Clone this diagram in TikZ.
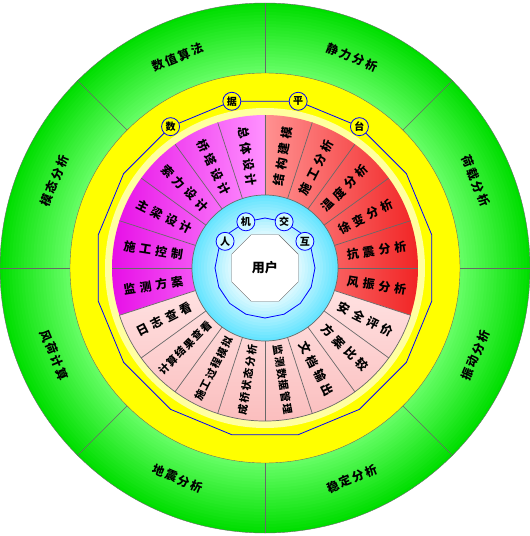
\documentclass[tikz,border=0pt]{standalone}
\usepackage{fontspec}
\newfontfamily\cjk{Noto Sans CJK SC}
\usetikzlibrary{shapes.geometric}

\definecolor{linegray}{RGB}{105,105,105}
\definecolor{grdark}{RGB}{0,222,0}
\definecolor{grlight}{RGB}{105,255,105}
\definecolor{ringyellow}{RGB}{255,255,0}
\definecolor{paleyellow}{RGB}{255,255,160}
\definecolor{mgsat}{RGB}{230,10,230}
\definecolor{mglight}{RGB}{255,145,255}
\definecolor{rdsat}{RGB}{240,30,30}
\definecolor{rdlight}{RGB}{255,145,145}
\definecolor{pklight}{RGB}{255,225,225}
\definecolor{pkdark}{RGB}{250,185,185}
\definecolor{cyanedge}{RGB}{100,228,255}
\definecolor{chipcyan}{RGB}{205,248,255}
\definecolor{loopblue}{RGB}{0,0,255}

\newcommand{\spread}[2]{\def\charsep{#1}\spreadchar#2\relax}
\def\spreadchar#1{#1\futurelet\spreadtok\spreadnext}
\def\spreadnext{\ifx\spreadtok\relax\expandafter\spreadstop\else\hskip\charsep\relax\expandafter\spreadchar\fi}
\def\spreadstop\relax{}

\begin{document}
\begin{tikzpicture}[x=1pt, y=1pt,
  divider/.style={draw=linegray, line width=0.7},
  blueloop/.style={draw=loopblue, line width=0.8},
  seglabel/.style={font=\cjk\bfseries\fontsize{12}{12}\selectfont, inner sep=0},
  longlabel/.style={font=\cjk\bfseries\fontsize{10.5}{10.5}\selectfont, inner sep=0},
  ringlabel/.style={font=\cjk\bfseries\fontsize{12}{12}\selectfont, inner sep=0},
  chip/.style={circle, draw=loopblue, line width=0.8, minimum size=18, inner sep=0,
    font=\cjk\bfseries\fontsize{10}{10}\selectfont},
  hub/.style={regular polygon, regular polygon sides=8, draw=linegray, fill=white,
    minimum size=72, inner sep=0, font=\cjk\bfseries\fontsize{13}{13}\selectfont}]
  \useasboundingbox (-265,-268) rectangle (265,268);

  \foreach \r [evaluate=\r as \p using {int((\r-195)*100/70)}] in {265,262,...,196}
    \fill[grdark!\p!grlight] (0,0) circle (\r);
  \draw[linegray] (0,0) circle (265);
  \foreach \a in {0,45,...,315} \draw[divider] (\a:195) -- (\a:265);
  \filldraw[fill=ringyellow, draw=linegray] (0,0) circle (195);
  \fill[paleyellow] (0,0) circle (160);
  \draw[blueloop] (11.25:170) \foreach \a in {33.75,56.25,...,348.75} {-- (\a:170)} -- cycle;

  \shade[left color=mgsat, right color=mglight] (90:153) arc[start angle=90, end angle=198, radius=153]
    -- (198:73) arc[start angle=198, end angle=90, radius=73] -- cycle;
  \shade[left color=rdlight, right color=rdsat] (-18:153) arc[start angle=-18, end angle=90, radius=153]
    -- (90:73) arc[start angle=90, end angle=-18, radius=73] -- cycle;
  \shade[top color=pklight, bottom color=pkdark] (198:153) arc[start angle=198, end angle=342, radius=153]
    -- (342:73) arc[start angle=342, end angle=198, radius=73] -- cycle;
  \foreach \a in {0,18,...,342} \draw[divider] (\a:73) -- (\a:153);
  \draw[divider] (198:153) arc[start angle=198, end angle=342, radius=153];

  \foreach \r [evaluate=\r as \p using {int((\r-25)*100/48)}] in {73,70,...,34}
    \fill[cyanedge!\p!white] (0,0) circle (\r);
  \draw[divider] (0,0) circle (73);
  \draw[blueloop] (0:50) \foreach \a in {22.5,45,...,337.5} {-- (\a:50)} -- cycle;
  \node[hub] (user) at (0,0) {用户};

  \node[chip, fill=ringyellow] (shu) at (123.75:170) {数};
  \node[chip, fill=ringyellow] (ju) at (101.25:170) {据};
  \node[chip, fill=ringyellow] (ping) at (78.75:170) {平};
  \node[chip, fill=ringyellow] (tai) at (56.25:170) {台};
  \node[chip, fill=chipcyan] (ren) at (146.25:48) {人};
  \node[chip, fill=chipcyan] (ji) at (112.5:50) {机};
  \node[chip, fill=chipcyan] (jiao) at (67.5:50) {交};
  \node[chip, fill=chipcyan] (hu) at (33.75:48) {互};

  \node[ringlabel, rotate=22.5] (numeric) at (112.5:228) {\spread{2pt}{数值算法}};
  \node[ringlabel, rotate=-22.5] (static) at (67.5:228) {\spread{2pt}{静力分析}};
  \node[ringlabel, rotate=-67.5] (load) at (22.5:228) {\spread{2pt}{荷载分析}};
  \node[ringlabel, rotate=67.5] (vibration) at (-22.5:228) {\spread{2pt}{振动分析}};
  \node[ringlabel, rotate=22.5] (stability) at (-67.5:228) {\spread{2pt}{稳定分析}};
  \node[ringlabel, rotate=-22.5] (quake) at (-112.5:228) {\spread{2pt}{地震分析}};
  \node[ringlabel, rotate=-67.5] (windload) at (-157.5:228) {\spread{2pt}{风荷计算}};
  \node[ringlabel, rotate=67.5] (modal) at (157.5:228) {\spread{2pt}{模态分析}};

  \node[seglabel, rotate=-81] (design) at (99:113) {\spread{4pt}{总体设计}};
  \node[seglabel, rotate=-63] (tower) at (117:113) {\spread{4pt}{桥塔设计}};
  \node[seglabel, rotate=-45] (cable) at (135:113) {\spread{4pt}{索力设计}};
  \node[seglabel, rotate=-27] (girder) at (153:113) {\spread{4pt}{主梁设计}};
  \node[seglabel, rotate=-9] (control) at (171:113) {\spread{4pt}{施工控制}};
  \node[seglabel, rotate=9] (monitor) at (189:113) {\spread{4pt}{监测方案}};
  \node[seglabel, rotate=27] (log) at (207:113) {\spread{4pt}{日志查看}};
  \node[longlabel, rotate=45] (result) at (225:113) {\spread{1.5pt}{计算结果查看}};
  \node[longlabel, rotate=63] (process) at (243:113) {\spread{1.5pt}{施工过程模拟}};
  \node[longlabel, rotate=81] (bridge) at (261:113) {\spread{1.5pt}{成桥状态分析}};
  \node[longlabel, rotate=-81] (manage) at (279:113) {\spread{1.5pt}{监测数据管理}};
  \node[seglabel, rotate=-63] (output) at (297:113) {\spread{4pt}{文档输出}};
  \node[seglabel, rotate=-45] (compare) at (315:113) {\spread{4pt}{方案比较}};
  \node[seglabel, rotate=-27] (assess) at (333:113) {\spread{4pt}{安全评价}};
  \node[seglabel, rotate=-9] (wind) at (-9:113) {\spread{4pt}{风振分析}};
  \node[seglabel, rotate=9] (seismic) at (9:113) {\spread{4pt}{抗震分析}};
  \node[seglabel, rotate=27] (creep) at (27:113) {\spread{4pt}{徐变分析}};
  \node[seglabel, rotate=45] (temp) at (45:113) {\spread{4pt}{温度分析}};
  \node[seglabel, rotate=63] (stage) at (63:113) {\spread{4pt}{施工分析}};
  \node[seglabel, rotate=81] (model) at (81:113) {\spread{4pt}{结构建模}};
\end{tikzpicture}
\end{document}
